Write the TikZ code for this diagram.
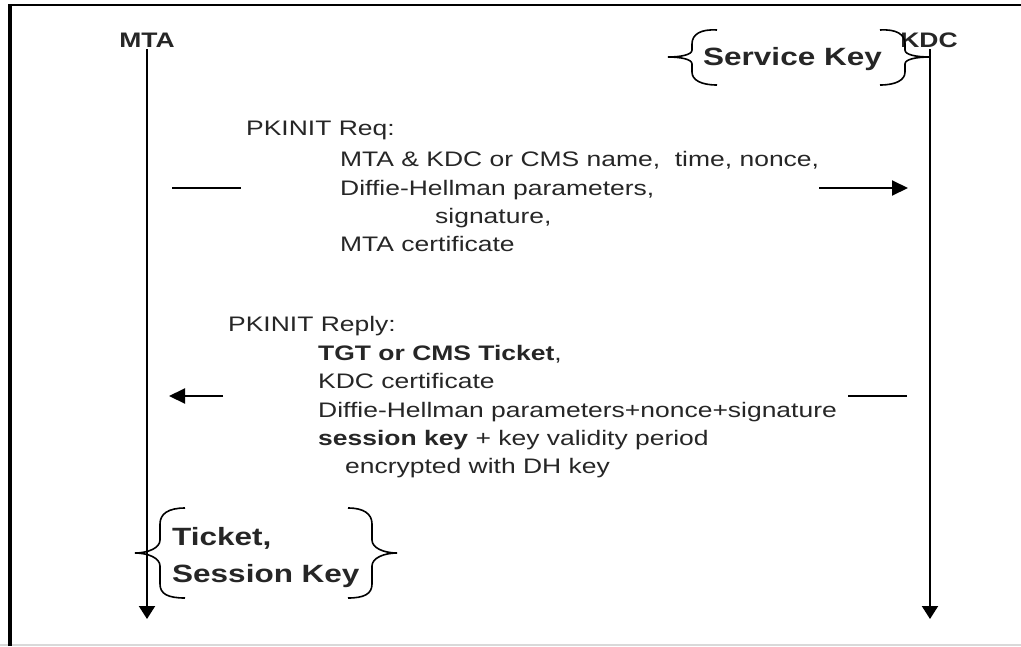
\documentclass[tikz,border=0pt]{standalone}
\usepackage{fontspec}
\setmainfont{Liberation Sans}
\usetikzlibrary{arrows.meta}
% wide letter shapes used throughout the chart
\newcommand\widetext[1]{\scalebox{1.26}[1]{#1}}
\begin{document}
\begin{tikzpicture}[x=1pt,y=-1pt,
  txt/.style={anchor=base west, inner sep=0pt, text=black!85, font=\fontsize{21}{21}\selectfont},
  actor/.style={anchor=base, inner sep=0pt, text=black!85, font=\fontsize{21}{21}\selectfont\bfseries},
  keytxt/.style={anchor=base west, inner sep=0pt, text=black!85, font=\fontsize{25}{25}\selectfont\bfseries},
  lifeline/.style={line width=2pt, -{Triangle[length=13pt,width=16pt]}},
  msgline/.style={line width=2pt},
  msgarrow/.style={line width=2pt, -{Triangle[length=16pt,width=15pt]}},
  curl/.style={line width=1.6pt}]
\useasboundingbox (0,0) rectangle (1021,646);

% frame
\draw[black!15, line width=1.5pt] (0,645) -- (1021,645);
\draw[line width=4.5pt] (10,646) -- (10,5);
\draw[line width=2.5pt] (8,5) -- (1021,5);

% actors and lifelines
\node[actor] (mta) at (147,47) {\widetext{MTA}};
\node[actor] (kdc) at (929,47) {\widetext{KDC}};
\coordinate (mtaend) at (147,619);
\coordinate (kdcend) at (930,619);
\draw[lifeline] ([yshift=-2pt]mta.south -| mtaend) -- (mtaend);
\draw[lifeline] ([yshift=-2pt]kdc.south -| kdcend) -- (kdcend);

% service key braces
\node[keytxt] (skey) at (703,65) {\widetext{Service Key}};
\draw[curl] (717,30) .. controls (701,29) and (692,34) .. (692,44) -- (692,50)
  .. controls (692,55) and (680,57) .. (668,57)
  .. controls (680,57) and (692,59) .. (692,64) -- (692,72)
  .. controls (692,80) and (701,85) .. (717,85);
\draw[curl] (880,30) .. controls (896,29) and (905,34) .. (905,44) -- (905,50)
  .. controls (905,55) and (917,57) .. (930,57)
  .. controls (917,57) and (905,59) .. (905,64) -- (905,72)
  .. controls (905,80) and (896,85) .. (880,85);

% PKINIT request
\node[txt] (req)  at (246,135) {\widetext{PKINIT Req:}};
\node[txt] (req1) at (340,166) {\widetext{MTA \& KDC or CMS name,\ \ time, nonce,}};
\node[txt] (req2) at (340,195) {\widetext{Diffie-Hellman parameters,}};
\node[txt] (req3) at (435,223) {\widetext{signature,}};
\node[txt] (req4) at (340,251) {\widetext{MTA certificate}};
\coordinate (reqa) at (172,188);
\coordinate (reqb) at (241,188);
\coordinate (reqc) at (819,188);
\coordinate (reqd) at (908,188);
\draw[msgline] (reqa) -- (reqb);
\draw[msgarrow] (reqc) -- (reqd);

% PKINIT reply
\node[txt] (rep)  at (228,331) {\widetext{PKINIT Reply:}};
\node[txt] (rep1) at (318,360) {\widetext{\textbf{TGT or CMS Ticket},}};
\node[txt] (rep2) at (318,388) {\widetext{KDC certificate}};
\node[txt] (rep3) at (318,417) {\widetext{Diffie-Hellman parameters+nonce+signature}};
\node[txt] (rep4) at (318,445) {\widetext{\textbf{session key} + key validity period}};
\node[txt] (rep5) at (345,473) {\widetext{encrypted with DH key}};
\coordinate (repa) at (907,396);
\coordinate (repb) at (848,396);
\coordinate (repc) at (223,396);
\coordinate (repd) at (169,396);
\draw[msgline] (repa) -- (repb);
\draw[msgarrow] (repc) -- (repd);

% ticket and session key braces
\node[keytxt] (tick) at (172,545) {\widetext{Ticket,}};
\node[keytxt] (sess) at (172,582) {\widetext{Session Key}};
\draw[curl] (185,508) .. controls (168,508) and (160,514) .. (160,524) -- (160,540)
  .. controls (160,548) and (148,553) .. (135,553)
  .. controls (148,553) and (160,558) .. (160,566) -- (160,584)
  .. controls (160,594) and (168,598) .. (185,598);
\draw[curl] (348,508) .. controls (364,508) and (372,514) .. (372,524) -- (372,540)
  .. controls (372,548) and (384,553) .. (397,553)
  .. controls (384,553) and (372,558) .. (372,566) -- (372,584)
  .. controls (372,594) and (364,598) .. (348,598);
\end{tikzpicture}
\end{document}
